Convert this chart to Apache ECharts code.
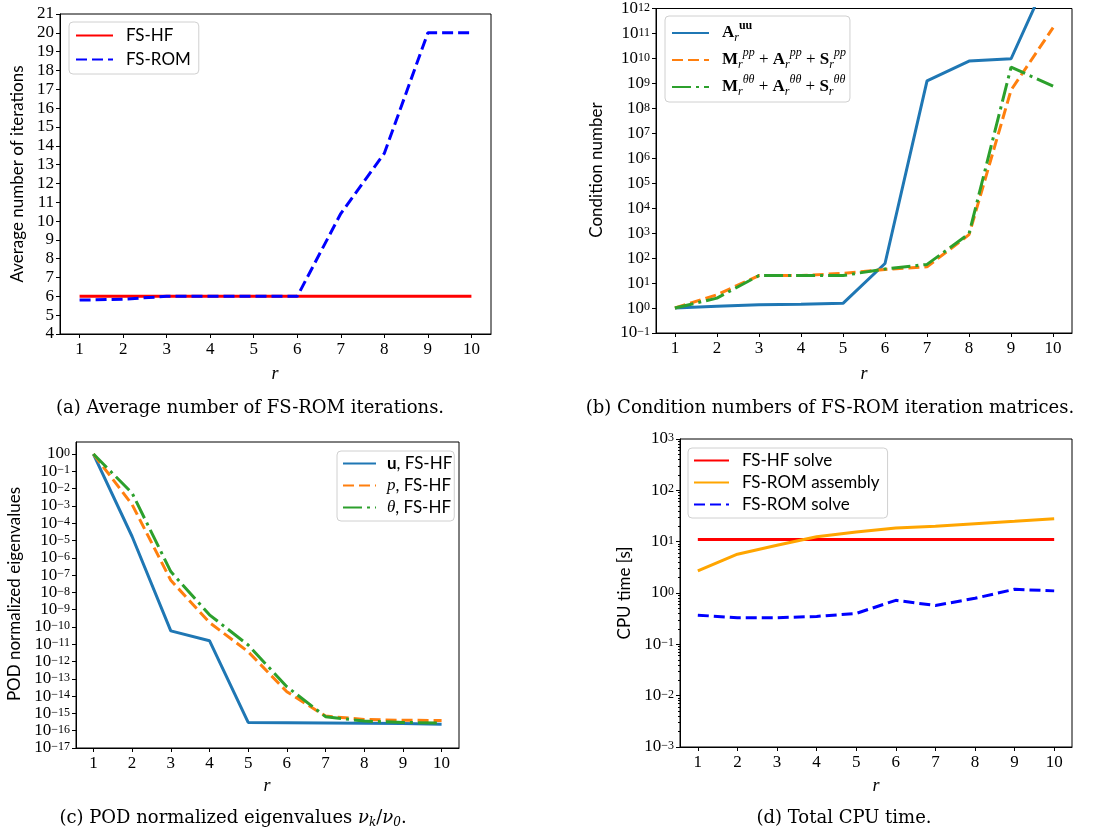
<!DOCTYPE html>
<html>
<head>
<meta charset="utf-8">
<script src="https://cdn.jsdelivr.net/npm/echarts@6/dist/echarts.min.js"></script>
<style>
  html, body { margin: 0; background: #fff; }
  #chart { width: 1112px; height: 835px; }
</style>
</head>
<body>
<div id="chart"></div>
<script>
// x positions shared by all four panels
const rVals = [1, 2, 3, 4, 5, 6, 7, 8, 9, 10]

// (a) average number of iterations
const itersHF = [6, 6, 6, 6, 6, 6, 6, 6, 6, 6]
const itersROM = [5.8, 5.85, 6, 6, 6, 6, 10.4, 13.6, 20, 20]
const iterTicks = [4, 5, 6, 7, 8, 9, 10, 11, 12, 13, 14, 15, 16, 17, 18, 19, 20, 21]

// (b) condition numbers
const condAuu = [1, 1.17, 1.35, 1.41, 1.55, 61, 1.26e9, 7.8e9, 9.7e9, 5e13]
const condPP = [1, 3.4, 20, 20, 24.5, 35, 45, 870, 5.4e8, 1.7e11]
const condTT = [1, 2.5, 20, 20, 20, 37, 56, 950, 4.5e9, 7.7e8]
const condExp = [-1, 0, 1, 2, 3, 4, 5, 6, 7, 8, 9, 10, 11, 12]

// (c) POD normalized eigenvalues
const podU = [1, 1.7e-5, 5.9e-11, 1.6e-11, 3e-16, 2.9e-16, 2.8e-16, 2.7e-16, 2.6e-16, 2.4e-16]
const podP = [1, 1.2e-3, 5e-8, 1.8e-10, 3.7e-12, 1.8e-14, 7e-16, 4.5e-16, 4e-16, 3.9e-16]
const podT = [1, 5.5e-3, 1.6e-7, 5e-10, 9e-12, 3.5e-14, 6.5e-16, 3.6e-16, 3e-16, 2.8e-16]
const podExp = [-17, -16, -15, -14, -13, -12, -11, -10, -9, -8, -7, -6, -5, -4, -3, -2, -1, 0]

// (d) CPU time
const cpuHF = [11, 11, 11, 11, 11, 11, 11, 11, 11, 11]
const cpuAsm = [2.7, 5.7, 8.5, 12.5, 15.4, 18.5, 20, 22.4, 25, 28]
const cpuROM = [0.37, 0.33, 0.33, 0.35, 0.4, 0.72, 0.57, 0.79, 1.18, 1.1]
const cpuExp = [-3, -2, -1, 0, 1, 2, 3]
const minorMult = [2, 3, 4, 5, 6, 7, 8, 9]

const serif = 'Liberation Serif'
const sans = 'Lato'

const lin = (ys) => rVals.map((x, i) => [x, ys[i]])
const lg = (ys) => rVals.map((x, i) => [x, Math.log10(ys[i])])

const minorTicks = []
cpuExp.slice(0, -1).forEach(e => minorMult.forEach(k => minorTicks.push(e + Math.log10(k))))

// "10" with a raised exponent; kept short so neighbouring labels do not collide
const powRich = {
  b: { fontFamily: serif, fontSize: 17, color: '#000', lineHeight: 14, verticalAlign: 'middle' },
  s: { fontFamily: serif, fontSize: 12, color: '#000', lineHeight: 1, verticalAlign: 'top' }
}
const powLabel = (v) => '{b|10}{s|' + (v < 0 ? '\u2212' + (-v) : v) + '}'

function xAxisFor(grid) {
  return {
    type: 'value', gridIndex: grid, min: 0.55, max: 10.45,
    axisLine: { show: true, onZero: false, lineStyle: { color: '#000', width: 1 } },
    axisTick: { show: true, length: 4, customValues: rVals, lineStyle: { color: '#000' } },
    axisLabel: { customValues: rVals, margin: 7, color: '#000', fontFamily: serif, fontSize: 17 },
    splitLine: { show: false }
  }
}

function logYAxis(grid, min, max, ticks) {
  return {
    type: 'value', gridIndex: grid, min: min, max: max,
    axisLine: { show: true, onZero: false, lineStyle: { color: '#000', width: 1 } },
    axisTick: { show: true, length: 4, customValues: ticks, lineStyle: { color: '#000' } },
    axisLabel: {
      customValues: ticks, margin: 6, formatter: powLabel, rich: powRich,
      showMinLabel: true, showMaxLabel: true, hideOverlap: false
    },
    splitLine: { show: false }
  }
}

const legendBox = {
  orient: 'vertical',
  backgroundColor: '#fff',
  borderColor: '#d0d0d0',
  borderWidth: 1,
  borderRadius: 4,
  itemWidth: 37,
  itemHeight: 14,
  itemStyle: { opacity: 0 },
  textStyle: { fontFamily: sans, fontSize: 17, color: '#000', padding: [0, 0, 0, 8] }
}

const mathRich = {
  B: { fontFamily: serif, fontSize: 17, fontWeight: 'bold', color: '#000', verticalAlign: 'middle' },
  t: { fontFamily: serif, fontSize: 17, color: '#000', verticalAlign: 'middle' },
  sp: { fontFamily: serif, fontSize: 12, fontStyle: 'italic', color: '#000', verticalAlign: 'middle', padding: [0, 0, 14, 0] },
  spb: { fontFamily: serif, fontSize: 12, fontWeight: 'bold', color: '#000', verticalAlign: 'middle', padding: [0, 0, 14, 0] },
  sb: { fontFamily: serif, fontSize: 12, fontStyle: 'italic', color: '#000', verticalAlign: 'middle', padding: [10, 0, 0, 0] },
  ub: { fontFamily: sans, fontSize: 17, fontWeight: 'bold', color: '#000' },
  i: { fontFamily: serif, fontSize: 17, fontStyle: 'italic', color: '#000' },
  n: { fontFamily: sans, fontSize: 17, color: '#000' }
}
const sumTerm = (s) => '{B|M}{sb|r}{sp|' + s + '}{t| + }{B|A}{sb|r}{sp|' + s + '}{t| + }{B|S}{sb|r}{sp|' + s + '}'
const legendNames = {
  Auu: '{B|A}{sb|r}{spb|uu}',
  Mpp: sumTerm('pp'),
  Mtt: sumTerm('\u03b8\u03b8'),
  u: '{ub|u}{n|, FS-HF}',
  p: '{i|p}{n|, FS-HF}',
  theta: '{i|\u03b8}{n|, FS-HF}'
}

const line = (name, x, y, data, color, type) => ({
  name: name, type: 'line', xAxisIndex: x, yAxisIndex: y, data: data,
  symbol: 'none', color: color, animation: false,
  lineStyle: { width: 3, color: color, type: type || 'solid', cap: 'butt' }
})

const dashed = [11, 5]
const dashDot = [19, 5, 3, 5]

const capFont = '18px "DejaVu Serif"'
const text = (t, x, y, font, rotate) => ({
  type: 'text', x: x, y: y, rotation: rotate ? Math.PI / 2 : 0,
  style: { text: t, font: font, fill: '#000', align: 'center', verticalAlign: 'middle' }
})

const chart = echarts.init(document.getElementById('chart'))

const option = {
  animation: false,
  backgroundColor: '#fff',
  grid: [
    { left: 60, top: 14, width: 431, height: 320, show: true, borderColor: '#000', borderWidth: 1 },
    { left: 656, top: 6, width: 416, height: 327, show: true, borderColor: '#000', borderWidth: 1 },
    { left: 76, top: 442, width: 383, height: 306, show: true, borderColor: '#000', borderWidth: 1 },
    { left: 680, top: 439, width: 392, height: 308, show: true, borderColor: '#000', borderWidth: 1 }
  ],
  xAxis: [xAxisFor(0), xAxisFor(1), xAxisFor(2), xAxisFor(3)],
  yAxis: [
    {
      type: 'value', gridIndex: 0, min: 4, max: 21,
      axisLine: { show: true, onZero: false, lineStyle: { color: '#000', width: 1 } },
      axisTick: { show: true, length: 4, customValues: iterTicks, lineStyle: { color: '#000' } },
      axisLabel: { customValues: iterTicks, margin: 6, color: '#000', fontFamily: serif, fontSize: 17, showMinLabel: true, showMaxLabel: true },
      splitLine: { show: false }
    },
    logYAxis(1, -1, 12, condExp),
    logYAxis(2, -17, 0.695, podExp),
    logYAxis(3, -3, 3, cpuExp),
    {
      type: 'value', gridIndex: 3, min: -3, max: 3, position: 'left',
      axisLine: { show: false },
      axisTick: { show: true, length: 2, customValues: minorTicks, lineStyle: { color: '#000' } },
      axisLabel: { show: false },
      splitLine: { show: false }
    }
  ],
  legend: [
    Object.assign({}, legendBox, {
      left: 69, top: 22, padding: [5, 8, 6, 6], itemGap: 7,
      data: ['FS-HF', 'FS-ROM']
    }),
    Object.assign({}, legendBox, {
      left: 665, top: 16, padding: [4, 4, 4, 6], itemGap: 3,
      data: ['Auu', 'Mpp', 'Mtt'],
      formatter: (n) => legendNames[n],
      textStyle: { padding: [0, 0, 0, 8], rich: mathRich }
    }),
    Object.assign({}, legendBox, {
      left: 337, top: 451, padding: [4, 2, 5, 5], itemWidth: 33, itemGap: 5,
      data: ['u', 'p', 'theta'],
      formatter: (n) => legendNames[n],
      textStyle: { padding: [0, 0, 0, 6], rich: mathRich }
    }),
    Object.assign({}, legendBox, {
      left: 688, top: 448, padding: [4, 8, 5, 5], itemWidth: 35, itemGap: 5,
      data: ['FS-HF solve', 'FS-ROM assembly', 'FS-ROM solve']
    })
  ],
  graphic: [
    text('Average number of iterations', 18, 174, '17px Lato', true),
    text('Condition number', 597, 170, '17px Lato', true),
    text('POD normalized eigenvalues', 15, 594, '17px Lato', true),
    text('CPU time [s]', 625, 593, '17px Lato', true),
    text('r', 275, 374, 'italic 18px "Liberation Serif"'),
    text('r', 864, 374, 'italic 18px "Liberation Serif"'),
    text('r', 267, 786, 'italic 18px "Liberation Serif"'),
    text('r', 876, 786, 'italic 18px "Liberation Serif"'),
    text('(a) Average number of FS-ROM iterations.', 250, 408, capFont),
    text('(b) Condition numbers of FS-ROM iteration matrices.', 830, 408, capFont),
    {
      type: 'text', x: 233, y: 818,
      style: {
        text: '{t|(c) POD normalized eigenvalues }{i|\u03bd}{s|k}{t|/}{i|\u03bd}{s|0}{t|.}',
        align: 'center', verticalAlign: 'middle',
        rich: {
          t: { font: capFont, fill: '#000', verticalAlign: 'middle' },
          i: { font: 'italic 18px "DejaVu Serif"', fill: '#000', verticalAlign: 'middle' },
          s: { font: 'italic 12px "DejaVu Serif"', fill: '#000', verticalAlign: 'middle', padding: [10, 0, 0, 0] }
        }
      }
    },
    text('(d) Total CPU time.', 844, 818, capFont)
  ],
  series: [
    line('FS-HF', 0, 0, lin(itersHF), '#ff0000'),
    line('FS-ROM', 0, 0, lin(itersROM), '#0000ff', dashed),

    line('Auu', 1, 1, lg(condAuu), '#1f77b4'),
    line('Mpp', 1, 1, lg(condPP), '#ff7f0e', dashed),
    line('Mtt', 1, 1, lg(condTT), '#2ca02c', dashDot),

    line('u', 2, 2, lg(podU), '#1f77b4'),
    line('p', 2, 2, lg(podP), '#ff7f0e', dashed),
    line('theta', 2, 2, lg(podT), '#2ca02c', dashDot),

    line('FS-HF solve', 3, 3, lg(cpuHF), '#ff0000'),
    line('FS-ROM assembly', 3, 3, lg(cpuAsm), '#ffa500'),
    line('FS-ROM solve', 3, 3, lg(cpuROM), '#0000ff', dashed)
  ]
}

chart.setOption(option)
</script>
</body>
</html>
